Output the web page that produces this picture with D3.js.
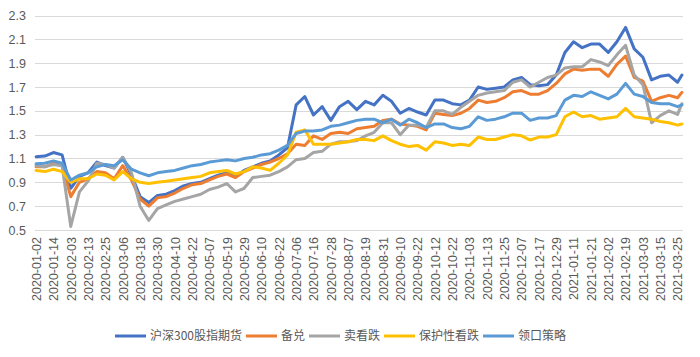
<!DOCTYPE html>
<html><head><meta charset="utf-8">
<script src="https://cdn.jsdelivr.net/npm/d3@7/dist/d3.min.js"></script>
<style>
html,body{margin:0;padding:0;background:#fff;}
svg{display:block;}
</style>
</head><body>
<svg id="chart" width="700" height="357"></svg>
<script>
const tickLabels = ["2020-01-02","2020-01-14","2020-02-03","2020-02-13","2020-02-25","2020-03-06","2020-03-18","2020-03-30","2020-04-10","2020-04-22","2020-05-07","2020-05-19","2020-05-29","2020-06-10","2020-06-22","2020-07-06","2020-07-16","2020-07-28","2020-08-07","2020-08-19","2020-08-31","2020-09-10","2020-09-22","2020-10-12","2020-10-22","2020-11-03","2020-11-13","2020-11-25","2020-12-07","2020-12-17","2020-12-29","2021-01-11","2021-01-21","2021-02-02","2021-02-19","2021-03-03","2021-03-15","2021-03-25"];
const totalDays = 299;
const labelEvery = 8;
const sampleDays = d3.range(0, 297, 4).concat([298]);
const yTicks = [0.5,0.7,0.9,1.1,1.3,1.5,1.7,1.9,2.1,2.3];

const seriesNames = ["沪深300股指期货","备兑","卖看跌","保护性看跌","领口策略"];
const hs300 = [1.115,1.12,1.15,1.13,0.85,0.95,0.98,1.07,1.04,1.02,1.11,0.96,0.78,0.73,0.79,0.80,0.83,0.87,0.89,0.90,0.93,0.96,0.98,0.95,1.00,1.03,1.06,1.08,1.13,1.19,1.55,1.62,1.465,1.535,1.42,1.535,1.58,1.51,1.58,1.55,1.63,1.58,1.48,1.52,1.49,1.465,1.59,1.59,1.56,1.55,1.59,1.70,1.68,1.69,1.70,1.76,1.78,1.72,1.71,1.72,1.80,1.99,2.08,2.03,2.06,2.06,1.99,2.08,2.20,2.02,1.95,1.76,1.79,1.80,1.74,1.80];
const coveredCall = [1.03,1.03,1.06,1.04,0.78,0.90,0.93,0.99,0.98,0.93,1.04,0.92,0.76,0.70,0.77,0.78,0.81,0.85,0.88,0.89,0.92,0.95,0.97,0.94,0.99,1.02,1.05,1.07,1.10,1.14,1.22,1.21,1.29,1.26,1.31,1.32,1.31,1.35,1.36,1.37,1.42,1.43,1.39,1.38,1.37,1.34,1.48,1.47,1.46,1.48,1.52,1.59,1.57,1.58,1.61,1.66,1.67,1.64,1.64,1.67,1.73,1.81,1.85,1.84,1.85,1.85,1.79,1.89,1.96,1.78,1.75,1.58,1.61,1.63,1.61,1.655];
const shortPut = [1.04,1.03,1.05,1.04,0.53,0.82,0.91,1.06,1.05,1.02,1.11,0.98,0.70,0.58,0.68,0.71,0.74,0.76,0.78,0.80,0.84,0.86,0.89,0.82,0.85,0.94,0.95,0.96,0.99,1.03,1.09,1.10,1.15,1.16,1.22,1.24,1.24,1.25,1.29,1.32,1.40,1.40,1.30,1.38,1.38,1.36,1.50,1.50,1.47,1.53,1.58,1.63,1.65,1.66,1.67,1.74,1.76,1.70,1.74,1.78,1.80,1.86,1.87,1.87,1.93,1.91,1.88,1.97,2.05,1.80,1.72,1.40,1.46,1.50,1.47,1.56];
const protectivePut = [1.00,0.99,1.01,0.99,0.90,0.93,0.93,0.97,0.96,0.92,0.99,0.93,0.90,0.89,0.90,0.91,0.92,0.93,0.94,0.95,0.98,0.99,1.00,0.97,0.99,1.03,1.02,1.00,1.06,1.13,1.32,1.34,1.22,1.22,1.22,1.23,1.24,1.26,1.26,1.25,1.29,1.25,1.22,1.20,1.21,1.17,1.24,1.23,1.21,1.22,1.21,1.28,1.26,1.26,1.28,1.30,1.29,1.255,1.28,1.28,1.30,1.45,1.49,1.45,1.46,1.43,1.44,1.45,1.52,1.45,1.44,1.43,1.41,1.40,1.38,1.39];
const collar = [1.055,1.06,1.08,1.06,0.92,0.96,0.98,1.03,1.05,1.04,1.09,1.01,0.98,0.955,0.98,0.99,1.00,1.02,1.04,1.05,1.07,1.08,1.09,1.08,1.10,1.11,1.13,1.14,1.17,1.21,1.31,1.33,1.33,1.34,1.37,1.38,1.40,1.42,1.43,1.43,1.40,1.43,1.38,1.43,1.40,1.36,1.39,1.39,1.36,1.35,1.37,1.45,1.42,1.43,1.45,1.48,1.48,1.42,1.44,1.44,1.46,1.59,1.63,1.62,1.66,1.63,1.60,1.64,1.73,1.64,1.62,1.57,1.56,1.56,1.535,1.55];
const colors = ["#4472C4","#ED7D31","#A5A5A5","#FFC000","#5B9BD5"];

const seriesValues = [hs300, coveredCall, shortPut, protectivePut, collar];
const svg = d3.select("#chart");
const plot = {left:35, right:683, top:15.5, bottom:230};

const x = d3.scaleLinear().domain([-0.5, totalDays - 0.5]).range([plot.left, plot.right]);
const y = d3.scaleLinear().domain([0.5, 2.3]).range([plot.bottom, plot.top]);

// gridlines
svg.append("g").selectAll("line").data(yTicks).join("line")
  .attr("x1", plot.left).attr("x2", plot.right)
  .attr("y1", d => Math.round(y(d)) + 0.5).attr("y2", d => Math.round(y(d)) + 0.5)
  .attr("stroke", "#D9D9D9").attr("stroke-width", 1);

// y axis labels
const yAxis = d3.axisLeft(y).tickValues(yTicks).tickFormat(d3.format(".1f")).tickSize(0).tickPadding(9);
const gy = svg.append("g").attr("transform", `translate(${plot.left},0)`).call(yAxis);
gy.select(".domain").remove();
gy.selectAll("text").attr("fill", "#595959").style("font-family", "'Liberation Sans', Arial, sans-serif").style("font-size", "12.5px");

// x axis labels
const tickIdx = tickLabels.map((d, i) => i * labelEvery);
const xAxis = d3.axisBottom(x).tickValues(tickIdx).tickFormat((d, i) => tickLabels[i]).tickSize(0);
const gx = svg.append("g").attr("transform", `translate(0,${plot.bottom})`).call(xAxis);
gx.select(".domain").remove();
gx.selectAll("text")
  .attr("fill", "#595959")
  .style("font-family", "'Liberation Sans', Arial, sans-serif").style("font-size", "12.5px")
  .attr("transform", "rotate(-90)")
  .attr("text-anchor", "end")
  .attr("x", -7).attr("y", 0).attr("dy", "0.35em");

// lines
const line = d3.line().x((d, i) => x(sampleDays[i])).y(d => y(d));
seriesValues.forEach((vals, s) => {
  svg.append("path").datum(vals)
    .attr("fill", "none").attr("stroke", colors[s]).attr("stroke-width", 3)
    .attr("stroke-linejoin", "round").attr("stroke-linecap", "round")
    .attr("d", line);
});

// legend
const legend = svg.append("g").attr("transform", "translate(0,336)");
let cx = 115;
seriesNames.forEach((name, s) => {
  legend.append("line").attr("x1", cx).attr("x2", cx + 31).attr("y1", 0).attr("y2", 0)
    .attr("stroke", colors[s]).attr("stroke-width", 3);
  const t = legend.append("text").attr("x", cx + 35).attr("y", 0).attr("dy", "0.35em")
    .attr("fill", "#595959")
    .style("font-family", "'Noto Sans CJK SC', sans-serif").style("font-size", "12px")
    .text(name);
  cx += 35 + t.node().getComputedTextLength() + 4;
});
</script>
</body></html>
